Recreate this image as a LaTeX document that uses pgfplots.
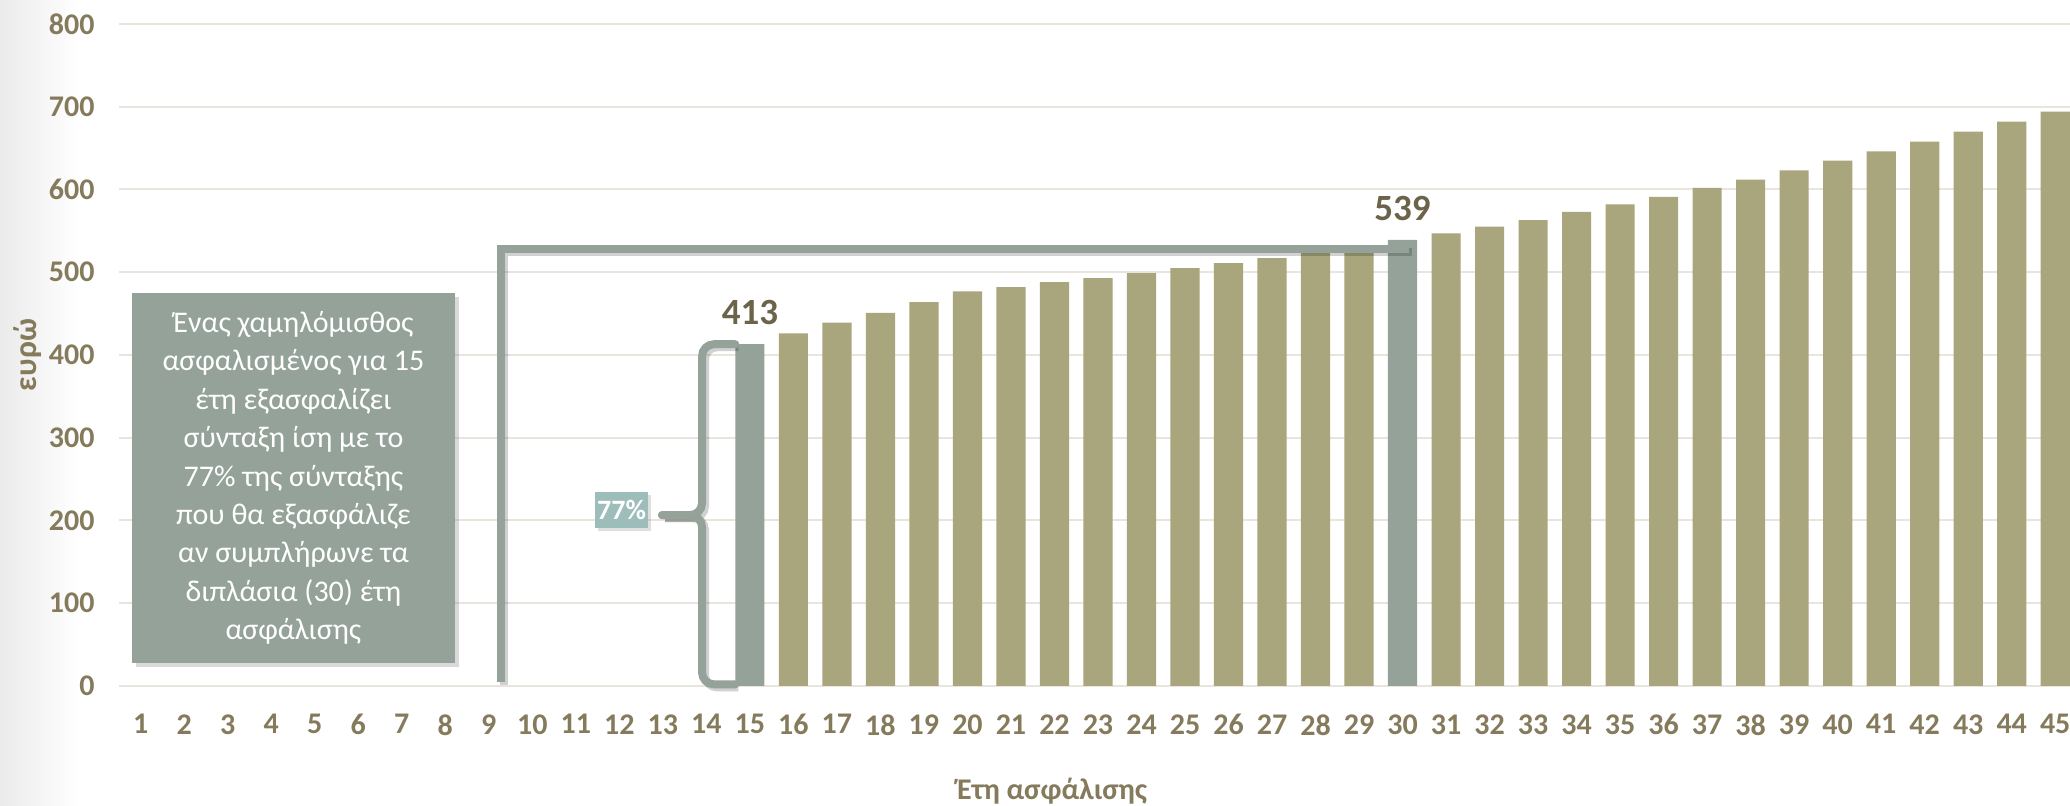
\documentclass[border=0pt]{standalone}
\usepackage{fontspec}
\setmainfont{Carlito}
\usepackage{pgfplots}
\pgfplotsset{compat=1.18}
\usetikzlibrary{shadows}
\definecolor{olivebar}{HTML}{A9A57C}
\definecolor{graybar}{HTML}{94A29A}
\definecolor{tickc}{HTML}{857B5C}
\definecolor{lblc}{HTML}{6B634A}
\definecolor{gridc}{HTML}{E9E5DC}
\definecolor{tealc}{HTML}{9CBDBA}
\begin{document}
\begin{tikzpicture}
\shade[left color=black!8, right color=white] (-59.5pt,-60pt) rectangle (-20pt,343pt);
\begin{axis}[
  at={(0,0)}, anchor=south west,
  scale only axis, width=975.5pt, height=331pt,
  xmin=0.5, xmax=45.34, ymin=0, ymax=800,
  xtick={1,...,45}, ytick={0,100,...,800},
  axis line style={draw=none},
  tick style={draw=none},
  ymajorgrids, grid style={gridc, line width=1pt},
  /pgf/number format/assume math mode=true,
  ticklabel style={font=\bfseries\fontsize{15}{15}\selectfont, text=tickc, inner sep=0pt},
  yticklabel style={anchor=east, xshift=-12pt},
  xticklabel style={anchor=north, yshift=-14pt},
  xlabel={Έτη ασφάλισης}, ylabel={ευρώ},
  every axis x label/.style={at={(axis description cs:0.4783,0)}, yshift=-57pt, anchor=base, font=\bfseries\fontsize{15}{15}\selectfont, text=tickc},
  every axis y label/.style={at={(axis description cs:0,0.5)}, xshift=-45.5pt, anchor=center, rotate=90, font=\bfseries\fontsize{16}{16}\selectfont, text=tickc},
  clip=false,
]
\addplot[ybar, bar width=0.67, bar shift=0, fill=olivebar, draw=none] coordinates {
 (16,426) (17,439) (18,451) (19,464) (20,477) (21,482) (22,488) (23,493) (24,499) (25,505)
 (26,511) (27,517) (28,524) (29,531) (31,547) (32,555) (33,563) (34,573) (35,582) (36,591)
 (37,602) (38,612) (39,623) (40,635) (41,646) (42,658) (43,670) (44,682) (45,694)
};
\addplot[ybar, bar width=0.67, bar shift=0, fill=graybar, draw=none,
  nodes near coords,
  every node near coord/.append style={font=\bfseries\fontsize{18.5}{18.5}\selectfont, text=lblc, anchor=south, inner sep=0pt, yshift=9.5pt}]
 coordinates {(15,413) (30,539)};
% L-shaped connector (shadow then line)
\draw[line width=4pt, black, opacity=0.18, transform canvas={xshift=1.5pt,yshift=-1.5pt}]
  (axis cs:9.28,5) -- (axis cs:9.28,528) -- (axis cs:30.15,528);
\draw[line width=4pt, graybar] (axis cs:9.28,5) -- (axis cs:9.28,528) -- (axis cs:30.15,528);
% brace (shadow then line)
\draw[line width=4pt, black, opacity=0.18, rounded corners=6pt, transform canvas={xshift=1.5pt,yshift=-1.5pt}]
  (axis cs:14.665,413) -| (axis cs:13.90,206.5) -- (axis cs:12.98,206.5);
\draw[line width=4pt, black, opacity=0.18, rounded corners=6pt, transform canvas={xshift=1.5pt,yshift=-1.5pt}]
  (axis cs:14.665,2) -| (axis cs:13.90,206.5) -- (axis cs:12.98,206.5);
\draw[line width=4pt, graybar, rounded corners=6pt, line cap=round]
  (axis cs:14.665,413) -| (axis cs:13.90,206.5) -- (axis cs:12.98,206.5);
\draw[line width=4pt, graybar, rounded corners=6pt, line cap=round]
  (axis cs:14.665,2) -| (axis cs:13.90,206.5) -- (axis cs:12.98,206.5);
\node[fill=tealc, text=white, font=\bfseries\fontsize{14}{14}\selectfont, inner sep=1pt,
  minimum width=26.5pt, minimum height=18pt, drop shadow={opacity=0.25, shadow xshift=1.5pt, shadow yshift=-1.5pt}]
  at (axis cs:12.05,213) {77\%};
\node[fill=graybar, text=white, align=center, minimum width=161.5pt, minimum height=185pt, inner sep=0pt,
  drop shadow={opacity=0.3, shadow xshift=2pt, shadow yshift=-2pt},
  font=\fontsize{15}{19.2}\selectfont]
  at (axis cs:4.51,251.5) {Ένας χαμηλόμισθος\\ ασφαλισμένος για 15\\ έτη εξασφαλίζει\\ σύνταξη ίση με το\\ 77\% της σύνταξης\\ που θα εξασφάλιζε\\ αν συμπλήρωνε τα\\ διπλάσια (30) έτη\\ ασφάλισης};
\end{axis}
\pgfresetboundingbox
\path[use as bounding box] (-59.5pt,-60pt) rectangle (975.5pt,343pt);
\end{tikzpicture}
\end{document}
